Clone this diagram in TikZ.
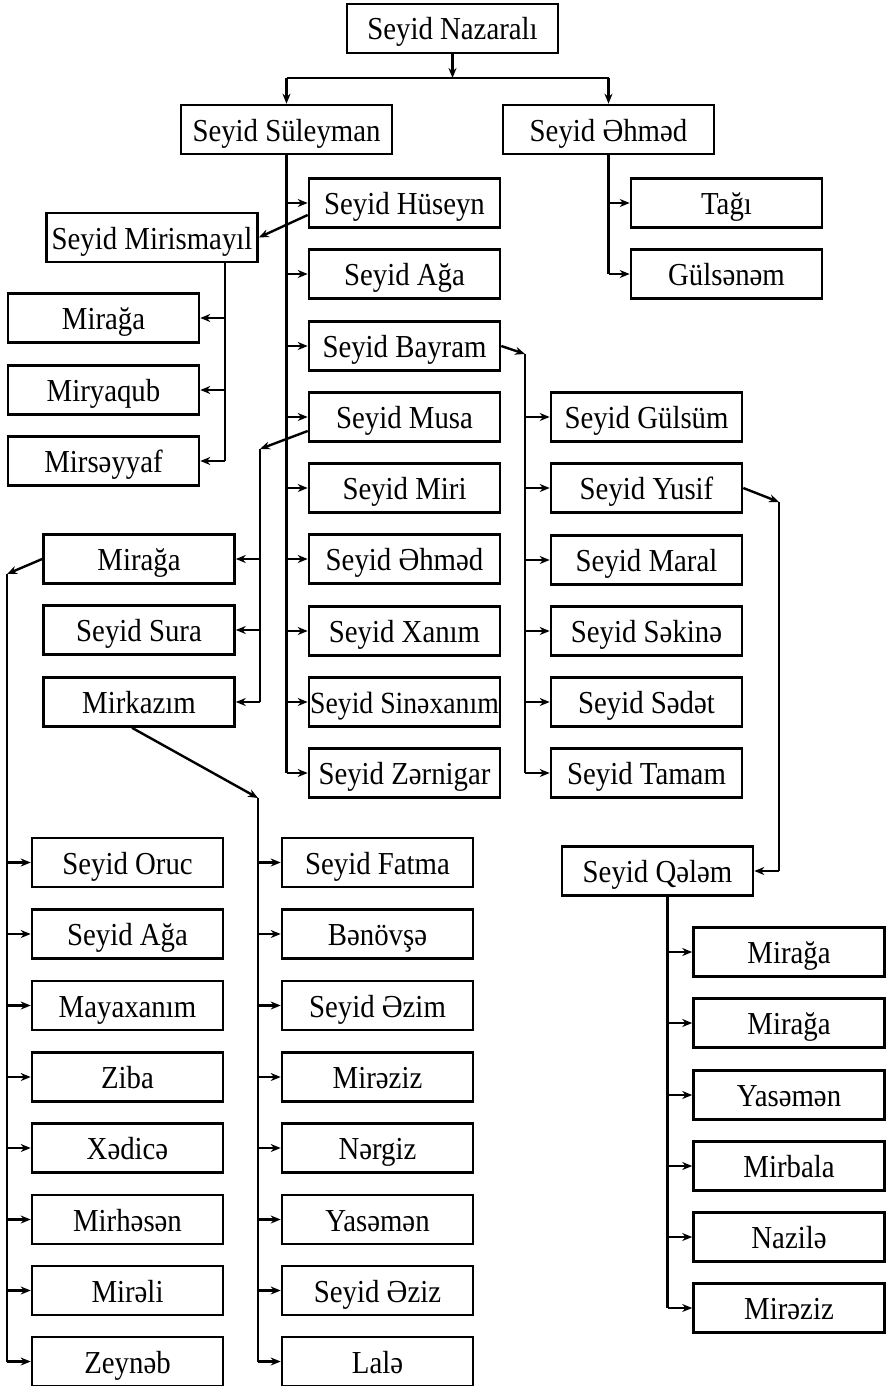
\documentclass[tikz,border=0pt]{standalone}
\usepackage{fontspec}
\setmainfont{Liberation Serif}[FakeStretch=0.9]
\usetikzlibrary{arrows.meta}

\begin{document}
\begin{tikzpicture}[
  x=0.5pt, y=-0.5pt,
  font=\fontsize{16}{18}\selectfont,
  box/.style={draw, line width=1.3pt, inner sep=0pt, minimum width=95.5pt, minimum height=24.5pt, align=center, text height=11.5pt, text depth=0pt},
  wbox/.style={box, minimum width=105.5pt},
  trunk/.style={line width=1.2pt},
  flow/.style={-{Stealth[length=5pt,width=4pt]}, line width=1.2pt},
]
\useasboundingbox (0,0) rectangle (885,1386);

% ---------- top ----------
\node[wbox] (NZ) at (452.5,28.5)  {Seyid Nazaralı};
\node[wbox] (SS) at (286.5,129.5) {Seyid Süleyman};
\node[wbox] (SA) at (608.5,129.5) {Seyid Əhməd};

% ---------- Seyid Əhməd ----------
\node[box] (TA) at (726.5,203) {Tağı};
\node[box] (GN) at (726.5,274) {Gülsənəm};

% ---------- Seyid Süleyman ----------
\node[box] (HU) at (404.5,203) {Seyid Hüseyn};
\node[box] (AG) at (404.5,274) {Seyid Ağa};
\node[box] (BA) at (404.5,346) {Seyid Bayram};
\node[box] (MU) at (404.5,417) {Seyid Musa};
\node[box] (MR) at (404.5,488) {Seyid Miri};
\node[box] (AH) at (404.5,559) {Seyid Əhməd};
\node[box] (XA) at (404.5,631) {Seyid Xanım};
\node[box, font=\fontsize{15.4}{18}\selectfont] (SX) at (404.5,702) {Seyid Sinəxanım};
\node[box] (ZR) at (404.5,773) {Seyid Zərnigar};

% ---------- Seyid Hüseyn ----------
\node[wbox] (MI) at (152,237.5) {Seyid Mirismayıl};
\node[box] (MG) at (103.5,318) {Mirağa};
\node[box] (MY) at (103.5,390) {Miryaqub};
\node[box] (MS) at (103.5,461) {Mirsəyyaf};

% ---------- Seyid Musa ----------
\node[box] (MA) at (139,559) {Mirağa};
\node[box] (SU) at (139,630) {Seyid Sura};
\node[box] (MK) at (139,702) {Mirkazım};

% ---------- Seyid Bayram ----------
\node[box] (GU) at (646.5,417) {Seyid Gülsüm};
\node[box] (YU) at (646.5,488) {Seyid Yusif};
\node[box] (ML) at (646.5,560) {Seyid Maral};
\node[box] (SK) at (646.5,631) {Seyid Səkinə};
\node[box] (SD) at (646.5,702) {Seyid Sədət};
\node[box] (TM) at (646.5,773) {Seyid Tamam};

% ---------- Seyid Yusif ----------
\node[box] (QL) at (657.5,871) {Seyid Qələm};
\node[box] (Q1) at (789,952)  {Mirağa};
\node[box] (Q2) at (789,1023) {Mirağa};
\node[box] (Q3) at (789,1095) {Yasəmən};
\node[box] (Q4) at (789,1166) {Mirbala};
\node[box] (Q5) at (789,1237) {Nazilə};
\node[box] (Q6) at (789,1308) {Mirəziz};

% ---------- Mirağa ----------
\node[box] (L1) at (127.5,862.5)  {Seyid Oruc};
\node[box] (L2) at (127.5,934)    {Seyid Ağa};
\node[box] (L3) at (127.5,1005.5) {Mayaxanım};
\node[box] (L4) at (127.5,1077)   {Ziba};
\node[box] (L5) at (127.5,1148)   {Xədicə};
\node[box] (L6) at (127.5,1219.5) {Mirhəsən};
\node[box] (L7) at (127.5,1290.5) {Mirəli};
\node[box] (L8) at (127.5,1361.5) {Zeynəb};

% ---------- Mirkazım ----------
\node[box] (R1) at (377.5,862.5)  {Seyid Fatma};
\node[box] (R2) at (377.5,934)    {Bənövşə};
\node[box] (R3) at (377.5,1005.5) {Seyid Əzim};
\node[box] (R4) at (377.5,1077)   {Mirəziz};
\node[box] (R5) at (377.5,1148)   {Nərgiz};
\node[box] (R6) at (377.5,1219.5) {Yasəmən};
\node[box] (R7) at (377.5,1290.5) {Seyid Əziz};
\node[box] (R8) at (377.5,1361.5) {Lalə};

% ---------- junctions ----------
\coordinate (TJ) at (452.5,78);
\coordinate (IJ) at ([xshift=-17pt]MI.south east);
\coordinate (BJ) at (525,354);
\coordinate (YJ) at (779,502);
\coordinate (QJ) at ([xshift=5pt]QL.south);
\coordinate (MJ) at (260,449);
\coordinate (LJ) at (7,574);
\coordinate (RJ) at (258,798);

% ---------- edges ----------
% Nazaralı -> two sons
\draw[flow] (NZ.south) -- (TJ);
\draw[trunk] (SS.north |- TJ) -- (SA.north |- TJ);
\draw[flow] (SS.north |- TJ) -- (SS.north);
\draw[flow] (SA.north |- TJ) -- (SA.north);

% Əhməd
\draw[trunk] (SA.south) -- (SA.south |- GN.west);
\draw[flow] (SA.south |- TA.west) -- (TA.west);
\draw[flow] (SA.south |- GN.west) -- (GN.west);

% Süleyman
\draw[trunk] (SS.south) -- (SS.south |- ZR.west);
\draw[flow] (SS.south |- HU.west) -- (HU.west);
\draw[flow] (SS.south |- AG.west) -- (AG.west);
\draw[flow] (SS.south |- BA.west) -- (BA.west);
\draw[flow] (SS.south |- MU.west) -- (MU.west);
\draw[flow] (SS.south |- MR.west) -- (MR.west);
\draw[flow] (SS.south |- AH.west) -- (AH.west);
\draw[flow] (SS.south |- XA.west) -- (XA.west);
\draw[flow] (SS.south |- SX.west) -- (SX.west);
\draw[flow] (SS.south |- ZR.west) -- (ZR.west);

% Hüseyn -> Mirismayıl
\draw[flow] ([yshift=-6pt]HU.west) -- (MI.east);
\draw[trunk] (IJ) -- (IJ |- MS.east);
\draw[flow] (IJ |- MG.east) -- (MG.east);
\draw[flow] (IJ |- MY.east) -- (MY.east);
\draw[flow] (IJ |- MS.east) -- (MS.east);

% Bayram
\draw[flow] (BA.east) -- (BJ);
\draw[trunk] (BJ) -- (BJ |- TM.west);
\draw[flow] (BJ |- GU.west) -- (GU.west);
\draw[flow] (BJ |- YU.west) -- (YU.west);
\draw[flow] (BJ |- ML.west) -- (ML.west);
\draw[flow] (BJ |- SK.west) -- (SK.west);
\draw[flow] (BJ |- SD.west) -- (SD.west);
\draw[flow] (BJ |- TM.west) -- (TM.west);

% Yusif -> Qələm
\draw[flow] (YU.east) -- (YJ);
\draw[trunk] (YJ) -- (YJ |- QL.east);
\draw[flow] (YJ |- QL.east) -- (QL.east);
\draw[trunk] (QJ) -- (QJ |- Q6.west);
\draw[flow] (QJ |- Q1.west) -- (Q1.west);
\draw[flow] (QJ |- Q2.west) -- (Q2.west);
\draw[flow] (QJ |- Q3.west) -- (Q3.west);
\draw[flow] (QJ |- Q4.west) -- (Q4.west);
\draw[flow] (QJ |- Q5.west) -- (Q5.west);
\draw[flow] (QJ |- Q6.west) -- (Q6.west);

% Musa
\draw[flow] ([yshift=-7pt]MU.west) -- (MJ);
\draw[trunk] (MJ) -- (MJ |- MK.east);
\draw[flow] (MJ |- MA.east) -- (MA.east);
\draw[flow] (MJ |- SU.east) -- (SU.east);
\draw[flow] (MJ |- MK.east) -- (MK.east);

% Mirağa (left column)
\draw[flow] (MA.west) -- (LJ);
\draw[trunk] (LJ) -- (LJ |- L8.west);
\draw[flow] (LJ |- L1.west) -- (L1.west);
\draw[flow] (LJ |- L2.west) -- (L2.west);
\draw[flow] (LJ |- L3.west) -- (L3.west);
\draw[flow] (LJ |- L4.west) -- (L4.west);
\draw[flow] (LJ |- L5.west) -- (L5.west);
\draw[flow] (LJ |- L6.west) -- (L6.west);
\draw[flow] (LJ |- L7.west) -- (L7.west);
\draw[flow] (LJ |- L8.west) -- (L8.west);

% Mirkazım (right column)
\draw[flow] ([xshift=-3.5pt]MK.south) -- (RJ);
\draw[trunk] (RJ) -- (RJ |- R8.west);
\draw[flow] (RJ |- R1.west) -- (R1.west);
\draw[flow] (RJ |- R2.west) -- (R2.west);
\draw[flow] (RJ |- R3.west) -- (R3.west);
\draw[flow] (RJ |- R4.west) -- (R4.west);
\draw[flow] (RJ |- R5.west) -- (R5.west);
\draw[flow] (RJ |- R6.west) -- (R6.west);
\draw[flow] (RJ |- R7.west) -- (R7.west);
\draw[flow] (RJ |- R8.west) -- (R8.west);

\end{tikzpicture}
\end{document}
